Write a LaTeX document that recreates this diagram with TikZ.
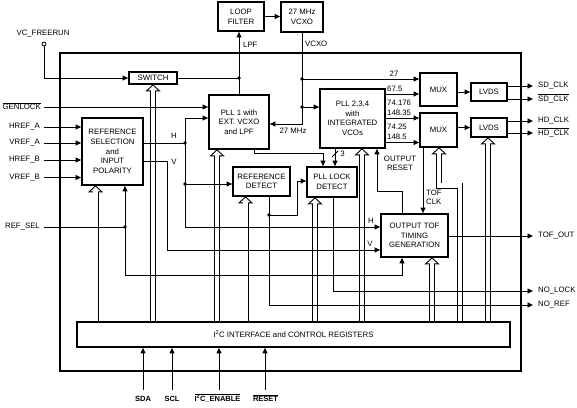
\documentclass[tikz,border=0pt]{standalone}
\usepackage{fontspec}
\setmainfont{Liberation Sans}
\usetikzlibrary{arrows.meta,calc}
\newcommand\ovl[1]{$\overline{\mbox{#1}}$}
\newcommand\busup[3]{%
  \draw[line width=.9pt,fill=white] (#3 -| #1) -- ++(-6.5,6) -- ++(13,0) -- cycle;
  \draw[line width=6pt] (#2 -| #1) -- ($(#3 -| #1)+(0,6)$);
  \draw[white,line width=4.2pt] (#2 -| #1) -- ($(#3 -| #1)+(0,5.2)$);
}
\tikzset{
  blk/.style={draw,line width=1.8pt,fill=white,align=center,inner sep=0pt,
    font=\fontsize{7.8}{9.6}\selectfont},
  conn/.style={line width=.9pt},
  conna/.style={line width=.9pt,-{Triangle[length=5.5pt,width=5pt]}},
  lbl/.style={inner sep=0pt,font=\fontsize{7.8}{9.6}\selectfont,align=left},
  dot/.style={circle,fill,inner sep=0pt,minimum size=3.6pt}
}
\begin{document}
\begin{tikzpicture}[x=1pt,y=-1pt]
\useasboundingbox (0,0) rectangle (577,407);
% outer box
\draw[line width=1.8pt] (60,53) rectangle (521,371);
% blocks
\node[blk,minimum width=46,minimum height=29] (lf) at (241,16.5) {LOOP\\FILTER};
\node[blk,minimum width=42,minimum height=30] (vcxo) at (302,17) {27 MHz\\VCXO};
\node[blk,minimum width=48,minimum height=12] (sw) at (153,78) {SWITCH};
\node[blk,minimum width=60,minimum height=54] (pll1) at (239,122) {PLL 1 with\\EXT. VCXO\\and LPF};
\node[blk,minimum width=61,minimum height=67] (refsel) at (112.5,151.5) {REFERENCE\\SELECTION\\and\\INPUT\\POLARITY};
\node[blk,minimum width=57,minimum height=29] (refdet) at (261.5,181.5) {REFERENCE\\DETECT};
\node[blk,minimum width=50,minimum height=30] (plllock) at (332,182) {PLL LOCK\\DETECT};
\node[blk,minimum width=65,minimum height=59] (pll234) at (352.5,118.5) {PLL 2,3,4\\with\\INTEGRATED\\VCOs};
\node[blk,minimum width=37,minimum height=33] (mux1) at (438.5,89.5) {MUX};
\node[blk,minimum width=37,minimum height=34] (mux2) at (438.5,130) {MUX};
\node[blk,minimum width=36,minimum height=18] (lvds1) at (489,92) {LVDS};
\node[blk,minimum width=36,minimum height=19] (lvds2) at (489,127.5) {LVDS};
\node[blk,minimum width=67,minimum height=43] (outtof) at (414.5,235.5) {OUTPUT TOF\\TIMING\\GENERATION};
% bus x positions
\coordinate (b1) at (95.5,0);
\coordinate (b2) at (153,0);
\coordinate (b3) at (217,0);
\coordinate (b4) at (245.5,0);
\coordinate (b5) at (315,0);
\coordinate (b6) at (362,0);
\coordinate (b7) at (432,0);
\coordinate (b9) at (488,0);
\coordinate (i2ctop) at (0,322);
% buses
\busup{b1}{i2ctop}{refsel.south}
\busup{b2}{i2ctop}{sw.south}
\busup{b3}{i2ctop}{pll1.south}
\busup{b4}{i2ctop}{refdet.south}
\busup{b5}{i2ctop}{plllock.south}
\busup{b6}{i2ctop}{pll234.south}
\busup{b7}{i2ctop}{outtof.south}
\busup{b9}{i2ctop}{lvds2.south}
\coordinate (mb1) at (460,185.5);
\coordinate (mb2) at (439,185.5);
\draw[line width=.9pt,fill=white] (mux2.south -| mb2) -- ++(-6.5,6) -- ++(13,0) -- cycle;
\draw[line width=6pt] (i2ctop -| mb1) -- (mb1) -- (mb2) -- ($(mux2.south -| mb2)+(0,6)$);
\draw[white,line width=4.2pt] (i2ctop -| mb1) -- (mb1) -- (mb2) -- ($(mux2.south -| mb2)+(0,5.2)$);
% I2C block
\node[blk,minimum width=433,minimum height=25] (i2c) at (293.5,334.5) {I\textsuperscript{2}C INTERFACE and CONTROL REGISTERS};
% loop filter / vcxo
\draw[conna] (lf.east) -- (lf.east -| vcxo.west);
\draw[conna] (pll1.north) -- (pll1.north |- lf.south);
\node[lbl,anchor=west] at (243,45) {LPF};
\coordinate (dlpf) at (pll1.north |- sw.east);
\draw[conn] (sw.east) -- (dlpf);
\node[dot] at (dlpf) {};
\coordinate (v27) at (302,124);
\coordinate (d27) at (302,79);
\coordinate (d67) at (302,107);
\draw[conna] (vcxo.south) -- (v27) -- (v27 -| pll1.east);
\node[lbl,anchor=west] at (305,44) {VCXO};
\node[lbl] at (293,131) {27 MHz};
\draw[conna] (d27) -- (d27 -| mux1.west);
\node[lbl] at (394,74) {27};
\draw[conna] (d67) -- (d67 -| pll234.west);
\node[dot] at (d27) {};
\node[dot] at (d67) {};
% VC_FREERUN
\node[lbl] at (43,34) {VC\_FREERUN};
\node[draw,circle,line width=.8pt,inner sep=0pt,minimum size=4pt] (vcf) at (44,44) {};
\draw[conna] (vcf.south) |- (sw.west);
% left inputs
\coordinate (gen) at (44,107);
\node[lbl,anchor=east] at (41,106) {\ovl{GENLOCK}};
\draw[conna] (gen) -- (gen -| pll1.west);
\coordinate (hra) at (44,127);
\coordinate (vra) at (44,143);
\coordinate (hrb) at (44,160);
\coordinate (vrb) at (44,177.5);
\node[lbl,anchor=east] at (40,127) {HREF\_A};
\node[lbl,anchor=east] at (40,143) {VREF\_A};
\node[lbl,anchor=east] at (40,160) {HREF\_B};
\node[lbl,anchor=east] at (40,177.5) {VREF\_B};
\draw[conna] (hra) -- (hra -| refsel.west);
\draw[conna] (vra) -- (vra -| refsel.west);
\draw[conna] (hrb) -- (hrb -| refsel.west);
\draw[conna] (vrb) -- (vrb -| refsel.west);
% REF_SEL
\coordinate (rsin) at (44,227);
\coordinate (rsd) at (125,227);
\coordinate (rs2) at (125,275);
\coordinate (rs3) at (402,275);
\node[lbl,anchor=east] at (40,227) {REF\_SEL};
\draw[conn] (rsin) -- (rsd);
\draw[conna] (rsd) -- (rsd |- refsel.south);
\draw[conna] (rsd) -- (rs2) -- (rs3) -- (rs3 |- outtof.south);
\node[dot] at (rsd) {};
% H net
\coordinate (hd1) at (185,143);
\coordinate (hp1) at (185,118);
\coordinate (hd2) at (185,184);
\coordinate (hd3) at (185,227);
\draw[conn] (hd1 -| refsel.east) -- (hd1);
\node[lbl] at (174,136) {H};
\draw[conna] (hd1) -- (hp1) -- (hp1 -| pll1.west);
\draw[conna] (hd2) -- (hd2 -| refdet.west);
\draw[conna] (hd1) -- (hd3) -- (hd3 -| outtof.west);
\node[lbl] at (371,221) {H};
\node[dot] at (hd1) {};
\node[dot] at (hd2) {};
% V net
\coordinate (vc) at (167,161);
\coordinate (vc2) at (167,250);
\draw[conna] (vc -| refsel.east) -- (vc) -- (vc2) -- (vc2 -| outtof.west);
\node[lbl] at (174,162) {V};
\node[lbl] at (370,244) {V};
% reference detect outputs
\coordinate (rdd) at (269,215);
\coordinate (rd2) at (297,215);
\coordinate (rd3) at (297,181);
\coordinate (nr1) at (269,305);
\coordinate (noref) at (533,305);
\draw[conn] (refdet.south -| rdd) -- (rdd);
\draw[conna] (rdd) -- (rd2) -- (rd3) -- (rd3 -| plllock.west);
\draw[conna] (rdd) -- (nr1) -- (noref);
\node[dot] at (rdd) {};
\node[lbl,anchor=west] at (538,305) {NO\_REF};
% PLL1 -> PLL lock
\coordinate (p1b) at (254.5,153);
\coordinate (p1c) at (323,153);
\draw[conna] (pll1.south -| p1b) -- (p1b) -- (p1c) -- (p1c |- plllock.north);
\coordinate (p3) at (335,0);
\draw[conna] (pll234.south -| p3) -- (plllock.north -| p3);
\draw[conn] (332,157) -- (338,151);
\node[lbl] at (342.5,154) {3};
% PLL lock output
\coordinate (pl2) at (333,291);
\coordinate (nolock) at (533,291);
\draw[conna] (plllock.south -| pl2) -- (pl2) -- (nolock);
\node[lbl,anchor=west] at (538,291) {NO\_LOCK};
% output reset
\coordinate (or1) at (402,191);
\coordinate (or2) at (377,191);
\draw[conna] (outtof.north -| or1) -- (or1) -- (or2) -- (or2 |- pll234.south);
\node[lbl,align=center] at (400,163.5) {OUTPUT\\RESET};
% TOF CLK
\coordinate (tc) at (423,0);
\draw[conna] (mux2.south -| tc) -- (outtof.north -| tc);
\node[lbl,anchor=west] at (426,197.5) {TOF\\CLK};
% PLL234 outputs
\coordinate (ya) at (0,94);
\coordinate (yb) at (0,118);
\coordinate (yc) at (0,142.5);
\draw[conna] (pll234.east |- ya) -- (mux1.west |- ya);
\draw[conna] (pll234.east |- yb) -- (mux2.west |- yb);
\draw[conna] (pll234.east |- yc) -- (mux2.west |- yc);
\node[lbl,anchor=west] at (387,89) {67.5};
\node[lbl,anchor=west] at (387,103) {74.176};
\node[lbl,anchor=west] at (387,113) {148.35};
\node[lbl,anchor=west] at (387,127) {74.25};
\node[lbl,anchor=west] at (387,137) {148.5};
% MUX -> LVDS
\draw[conna] (mux1.east |- lvds1.west) -- (lvds1.west);
\draw[conna] (mux2.east |- lvds2.west) -- (lvds2.west);
% outputs
\coordinate (sd1) at (533,86);
\coordinate (sd2) at (533,99);
\coordinate (hd1o) at (533,121);
\coordinate (hd2o) at (533,133);
\draw[conna] (lvds1.east |- sd1) -- (sd1);
\draw[conna] (lvds1.east |- sd2) -- (sd2);
\draw[conna] (lvds2.east |- hd1o) -- (hd1o);
\draw[conna] (lvds2.east |- hd2o) -- (hd2o);
\node[lbl,anchor=west] at (538,86) {SD\_CLK};
\node[lbl,anchor=west] at (538,98.5) {\ovl{SD\_CLK}};
\node[lbl,anchor=west] at (538,121) {HD\_CLK};
\node[lbl,anchor=west] at (538,132.5) {\ovl{HD\_CLK}};
\coordinate (tofout) at (533,236);
\draw[conna] (outtof.east |- tofout) -- (tofout);
\node[lbl,anchor=west] at (538,236) {TOF\_OUT};
% bottom inputs
\coordinate (sda) at (143,390);
\coordinate (scl) at (172,390);
\coordinate (ien) at (219,390);
\coordinate (rst) at (265,390);
\draw[conna] (sda) -- (sda |- i2c.south);
\draw[conna] (scl) -- (scl |- i2c.south);
\draw[conna] (ien) -- (ien |- i2c.south);
\draw[conna] (rst) -- (rst |- i2c.south);
\node[lbl,font=\fontsize{7.5}{9}\selectfont\bfseries] at (143,399) {SDA};
\node[lbl,font=\fontsize{7.5}{9}\selectfont\bfseries] at (172,399) {SCL};
\node[lbl,font=\fontsize{7.5}{9}\selectfont\bfseries] at (217.5,398) {\ovl{I\textsuperscript{2}C\_ENABLE}};
\node[lbl,font=\fontsize{7.5}{9}\selectfont\bfseries] at (265.5,398) {\ovl{RESET}};
\end{tikzpicture}
\end{document}
